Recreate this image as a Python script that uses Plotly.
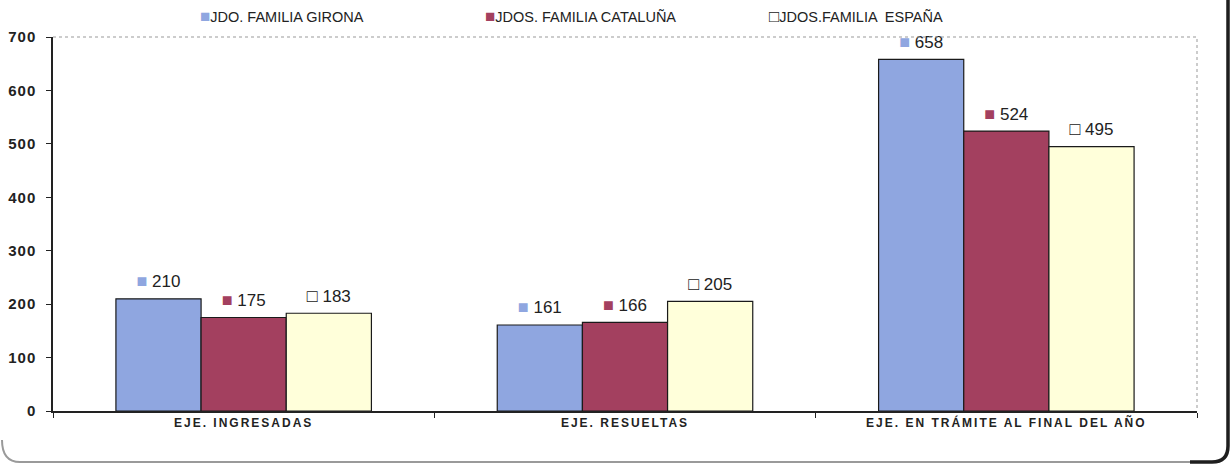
import plotly.graph_objects as go

categories = ["EJE. INGRESADAS", "EJE. RESUELTAS", "EJE. EN TRÁMITE AL FINAL DEL AÑO"]
series_names = ["JDO. FAMILIA GIRONA", "JDOS. FAMILIA CATALUÑA", "JDOS.FAMILIA  ESPAÑA"]
girona = [210, 161, 658]
cataluna = [175, 166, 524]
espana = [183, 205, 495]
y_ticks = [0, 100, 200, 300, 400, 500, 600, 700]

colors = ["#8FA6E0", "#A3405F", "#FFFFDA"]
key_colors = ["#8FA6E0", "#A3405F", "#222222"]
key_symbols = ["■", "■", "□"]
legend_x = [0.127, 0.376, 0.624]

FONT = "Liberation Sans, Arial"
W, H = 1231, 464
L, T, R, B = 53, 37, 34, 53
PW, PH = W - L - R, H - T - B

fig = go.Figure()
for i, (name, vals, col) in enumerate(zip(series_names, [girona, cataluna, espana], colors)):
    fig.add_trace(go.Bar(
        name=name, x=categories, y=vals, offsetgroup=str(i),
        marker=dict(color=col, line=dict(color="#1a1a1a", width=1.2)),
        showlegend=False,
    ))
for i, (vals, kc, ks) in enumerate(zip([girona, cataluna, espana], key_colors, key_symbols)):
    fig.add_trace(go.Scatter(
        x=categories, y=vals, offsetgroup=str(i), mode="markers+text",
        marker=dict(size=10, opacity=0),
        text=["<span style='color:%s;font-size:18px'>%s</span> %d" % (kc, ks, v) for v in vals],
        textposition="top center", cliponaxis=False,
        textfont=dict(family=FONT, size=17, color="#222"),
        showlegend=False, hoverinfo="skip",
    ))

for name, kc, ks, lx in zip(series_names, key_colors, key_symbols, legend_x):
    fig.add_annotation(xref="paper", yref="paper", x=lx, y=1.03 + 9 / PH, xanchor="left", yanchor="middle",
                       showarrow=False,
                       text="<span style='color:%s;font-size:17px'>%s</span>%s" % (kc, ks, name),
                       font=dict(family=FONT, size=14.5, color="#222"))

fig.update_layout(
    width=W, height=H,
    margin=dict(l=L, r=R, t=T, b=B, autoexpand=False),
    paper_bgcolor="white", plot_bgcolor="white",
    barmode="group", bargap=0.33, bargroupgap=0,
    scattermode="group", scattergap=0.33,
    showlegend=False,
    font=dict(family=FONT, color="#222"),
)
fig.update_yaxes(range=[0, 700], tickvals=y_ticks,
                 ticktext=["<span style='letter-spacing:1px'>%d</span>" % v for v in y_ticks],
                 ticks="outside", ticklen=5, tickcolor="#222", ticklabelstandoff=7,
                 showline=True, linecolor="#222", linewidth=1.5, showgrid=False, zeroline=False,
                 automargin=False,
                 tickfont=dict(family=FONT, size=15, color="#222", weight="bold"))
fig.update_xaxes(ticks="outside", tickson="boundaries", ticklen=5, tickcolor="#222",
                 tickvals=categories,
                 ticktext=["<span style='letter-spacing:2px'>%s</span>" % c for c in categories],
                 showline=True, linecolor="#222", linewidth=1.5, showgrid=False, automargin=False,
                 tickfont=dict(family=FONT, size=12, color="#222", weight="bold"))

# plot area dotted border (top and right)
fig.add_shape(type="path", xref="paper", yref="paper",
              path="M 0 1 L 1 1 L 1 0", line=dict(color="#999", width=1, dash="dot"))

# outer rounded frame (given in page pixels)
def px(x): return (x - L) / PW
def py(y): return (H - B - y) / PH
fig.add_shape(type="path", xref="paper", yref="paper",
              path=(f"M {px(2)} {py(440)} Q {px(2)} {py(462)} {px(20)} {py(462)} "
                    f"L {px(1210)} {py(462)}"),
              line=dict(color="#9a9a9a", width=2))
fig.add_shape(type="path", xref="paper", yref="paper",
              path=(f"M {px(1190)} {py(462)} L {px(1212)} {py(462)} "
                    f"Q {px(1228)} {py(462)} {px(1228)} {py(446)} L {px(1228)} {py(-10)}"),
              line=dict(color="#1e1e1e", width=3.5))

fig.write_html("out.html", config={"displayModeBar": False},
               post_script="document.body.style.margin='0';document.body.style.overflow='hidden';")
